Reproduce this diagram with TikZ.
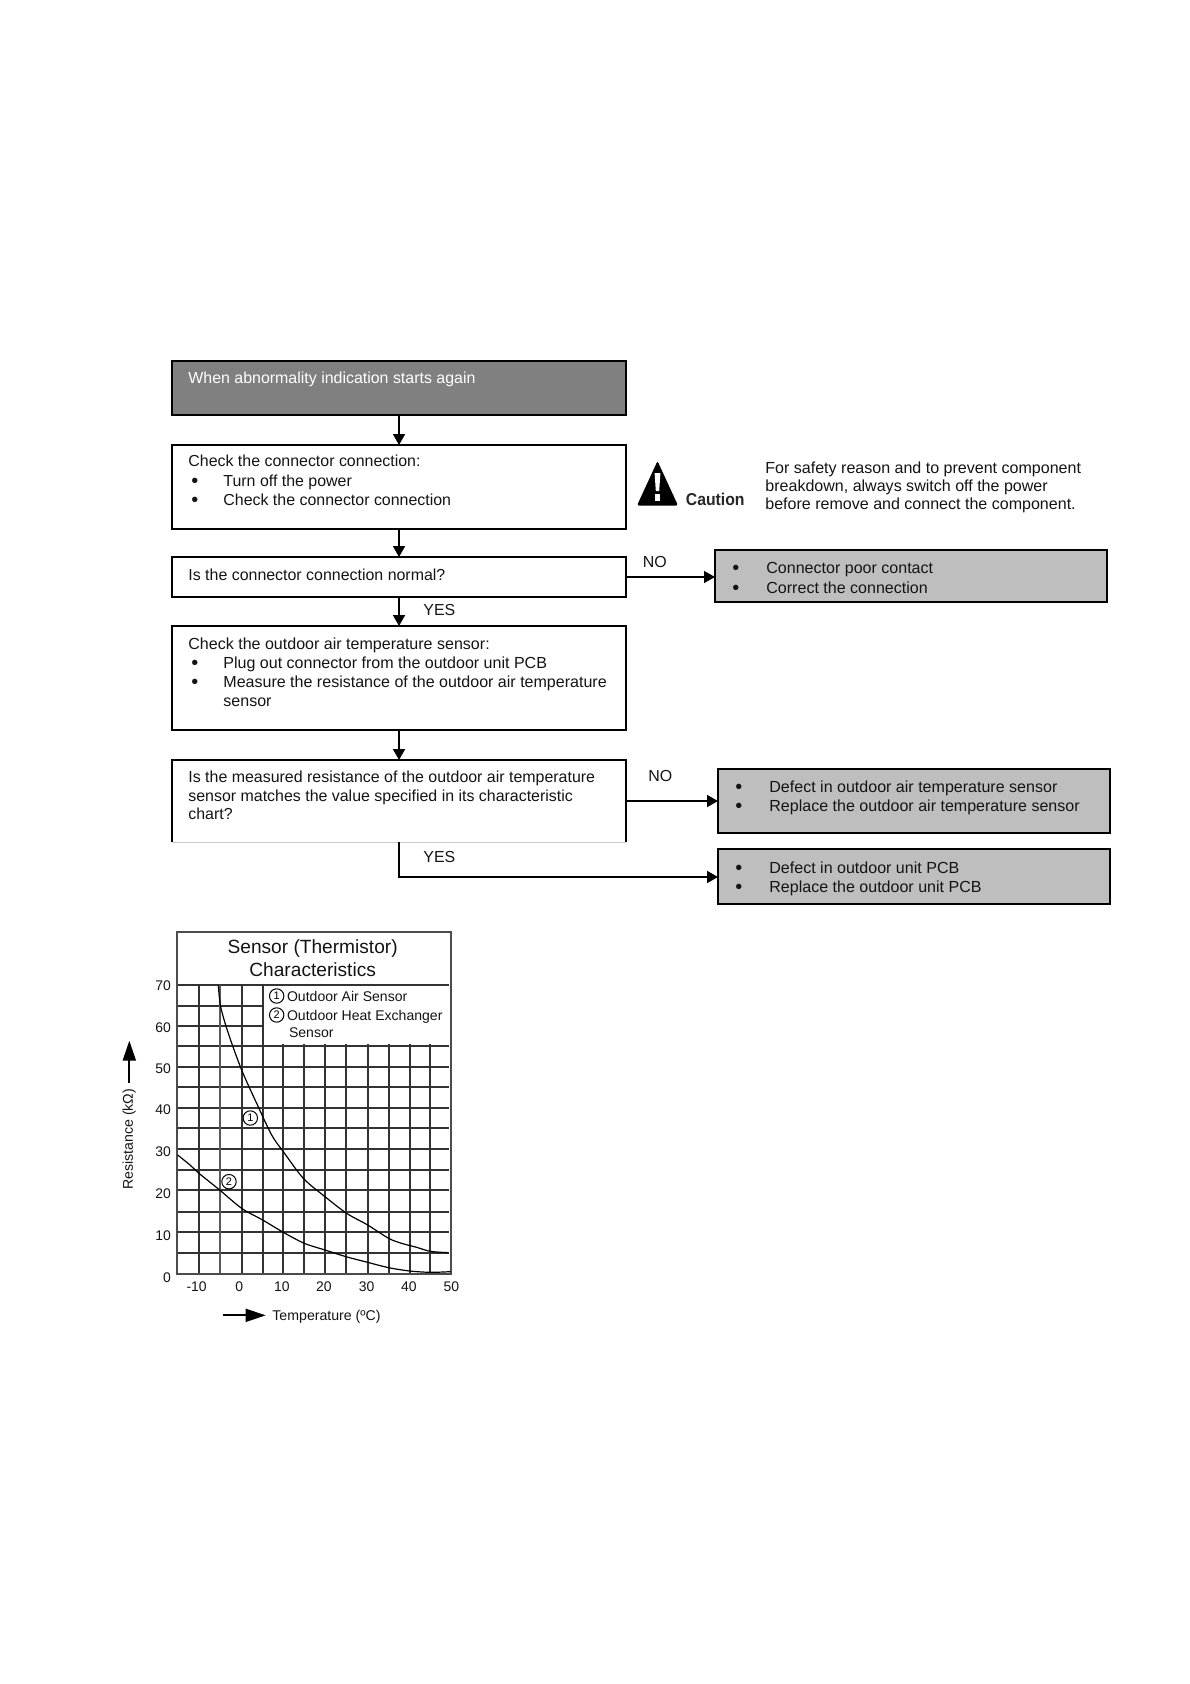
\documentclass[tikz,border=0pt]{standalone}
\usepackage{fontspec}
\setmainfont{Liberation Sans}
\usetikzlibrary{arrows.meta}
\newcommand{\bigdot}{\raisebox{-0.5bp}{\fontsize{10}{10}\selectfont\textbullet}}
\newcommand{\blt}{\hspace*{1.5bp}\makebox[16bp][l]{\bigdot}}
\newcommand{\gblt}{\makebox[17bp][l]{\bigdot}}
\tikzset{
  box/.style={draw=black,line width=0.9bp,fill=white,minimum width=227bp,inner sep=0pt,outer sep=0pt,anchor=north west},
  greybox/.style={draw=black,line width=1bp,fill=boxgrey,inner sep=0pt,outer sep=0pt,anchor=north west},
  txt/.style={anchor=north west,inner sep=0pt,align=left,font=\fontsize{8}{9.75}\selectfont,text=textblack},
  lab/.style={anchor=base west,inner sep=0pt,font=\fontsize{8}{9.85}\selectfont,text=textblack},
  flow/.style={draw=black,line width=0.9bp,-{Triangle[length=5.5bp,width=6bp]}},
  grid/.style={draw=black!80,line width=0.7bp},
  tick/.style={inner sep=0pt,font=\fontsize{7}{8}\selectfont,text=textblack},
  legend/.style={anchor=base west,inner sep=0pt,font=\fontsize{7.05}{8}\selectfont,text=textblack},
  circ/.style={draw=black,circle,line width=0.5bp,minimum size=7.2bp,inner sep=0pt,font=\fontsize{5.5}{6}\selectfont},
}
\definecolor{boxgrey}{HTML}{BEBEBE}
\definecolor{headgrey}{HTML}{808080}
\definecolor{textblack}{HTML}{141414}
\begin{document}
\begin{tikzpicture}[x=0.5bp,y=-0.5bp]
\useasboundingbox (0,0) rectangle (1190,1684);
\fill[white] (0,0) rectangle (1190,1684);
% flow boxes
\node[box,fill=headgrey,minimum height=27bp] (head) at (172,361) {};
\node[box,minimum height=42bp] (b1) at (172,445) {};
\node[box,minimum height=20bp] (q1) at (172,557) {};
\node[box,minimum height=52bp] (b2) at (172,626) {};
\node[box,draw=none,fill=none,minimum height=41bp] (q2) at (172,760) {};
\draw[black,line width=0.9bp] (q2.south west) -- (q2.north west) -- (q2.north east) -- (q2.south east);
\draw[black!20,line width=0.5bp] (q2.south west) -- (q2.south east);
\node[greybox,minimum width=196bp,minimum height=26bp] (g1) at (715,550) {};
\node[greybox,minimum width=196bp,minimum height=32bp] (g2) at (718,769) {};
\node[greybox,minimum width=196bp,minimum height=27.5bp] (g3) at (718,849) {};
% flow texts
\node[txt,text=white] (thead) at (188,372) {When abnormality indication starts again};
\node[txt] (tb1) at (188,455) {Check the connector connection:\\\blt Turn off the power\\\blt Check the connector connection};
\node[txt] (tq1) at (188,568.5) {Is the connector connection normal?};
\node[txt,font=\fontsize{8.05}{9.6}\selectfont] (tb2) at (188,637) {Check the outdoor air temperature sensor:\\\blt Plug out connector from the outdoor unit PCB\\\blt Measure the resistance of the outdoor air temperature\\\hspace*{17.5bp}sensor};
\node[txt,font=\fontsize{8}{9.2}\selectfont] (tq2) at (188,771) {Is the measured resistance of the outdoor air temperature\\sensor matches the value specified in its characteristic\\chart?};
\node[txt,font=\fontsize{8.05}{9.75}\selectfont] (tg1) at (732,562) {\gblt Connector poor contact\\\gblt Correct the connection};
\node[txt,font=\fontsize{8.05}{9.75}\selectfont] (tg2) at (735,780.5) {\gblt Defect in outdoor air temperature sensor\\\gblt Replace the outdoor air temperature sensor};
\node[txt,font=\fontsize{8.05}{9.75}\selectfont] (tg3) at (735,861) {\gblt Defect in outdoor unit PCB\\\gblt Replace the outdoor unit PCB};
\node[txt,font=\fontsize{8.05}{9.2}\selectfont] (tcaution) at (765,461) {For safety reason and to prevent component\\breakdown, always switch off the power\\before remove and connect the component.};
\node[lab] (yes1) at (423,615) {YES};
\node[lab] (no1) at (642.5,567.5) {NO};
\node[lab] (no2) at (648,781.5) {NO};
\node[lab] (yes2) at (423,862.5) {YES};
% connectors
\coordinate (g1in) at (g1.west |- q1.east);
\coordinate (g2in) at (g2.west |- q2.east);
\coordinate (g3in) at (718,877);
\draw[flow] (head.south) -- (b1.north);
\draw[flow] (b1.south) -- (q1.north);
\draw[flow] (q1.south) -- (b2.north);
\draw[flow] (b2.south) -- (q2.north);
\draw[flow,line width=0.6bp] (q1.east) -- (g1in);
\draw[flow] (q2.east) -- (g2in);
\draw[flow] (q2.south) |- (g3in);
% caution icon
\fill[black,rounded corners=1bp] (657.5,461) -- (678,505.5) -- (637,505.5) -- cycle;
\fill[white] (654.6,473) -- (660.4,473) -- (659.2,491) -- (655.8,491) -- cycle;
\fill[white] (654.8,494) rectangle (660.2,501);
\node[anchor=base west,inner sep=0pt,font=\fontsize{8.6}{10}\bfseries,text=black!85,xscale=0.92,transform shape] (cautionlabel) at (685.5,505.5) {Caution};
% chart, in a coordinate frame of 3 units per pixel
\begin{scope}[shift={(100,910)},x=0.16667bp,y=-0.16667bp]
\foreach \y in {288,348} \draw[grid] (231,\y) -- (492,\y);
\foreach \y in {408,471,531,594,654,717,780,840,906,966,1029} \draw[grid] (231,\y) -- (1047,\y);
\draw[grid] (231,225) -- (1047,225);
\foreach \x in {297,426,489} \draw[grid] (\x,225) -- (\x,1092);
\draw[grid,draw=black!65] (360,225) -- (360,1092);
\foreach \x in {549,612,675,738,804,867,930,990} \draw[grid] (\x,402) -- (\x,1092);
\draw[black!70,line width=0.7bp] (231,66) rectangle (1053,1092);
\draw[black,line width=0.6bp] plot[smooth] coordinates {(355,225)(362,290)(385,370)(425,480)(470,580)(515,675)(550,725)(610,805)(675,860)(740,910)(803,945)(866,985)(905,1000)(950,1012)(991,1024)(1045,1028)};
\draw[black,line width=0.6bp] plot[smooth] coordinates {(233,735)(270,765)(297,790)(359,840)(425,895)(488,930)(550,967)(613,1000)(675,1020)(738,1040)(803,1057)(866,1073)(929,1083)(991,1087)(1052,1085)};
\node[inner sep=0pt,font=\fontsize{9.6}{11.6}\selectfont,text=textblack,align=center] (ctitle) at (638,144) {Sensor (Thermistor)\\Characteristics};
\foreach \v/\yy in {70/228,60/352,50/477,40/600,30/726,20/851,10/977,0/1102} \node[tick,anchor=east] (yt\v) at (214,\yy) {\v};
\foreach \v/\xx in {-10/290,0/418,10/546,20/672,30/800,40/927,50/1054} \node[tick] (xt\v) at (\xx,1130) {\v};
\node[circ] (leg1) at (530,258) {1};
\node[circ] (leg2) at (530,315) {2};
\node[legend] (legt1) at (560,273) {Outdoor Air Sensor};
\node[legend] (legt2) at (560,330) {Outdoor Heat Exchanger};
\node[legend] (legt3) at (566,383) {Sensor};
\node[circ,fill=white] (c1) at (451,624) {1};
\node[circ,fill=white] (c2) at (387,815) {2};
\node[tick,rotate=90,font=\fontsize{7.1}{8}\selectfont] (ylabel) at (88,688) {Resistance (kΩ)};
\node[tick,anchor=base west,font=\fontsize{7.1}{8}\selectfont] (xlabel) at (516,1232) {Temperature (ºC)};
\coordinate (ya0) at (88,518);
\coordinate (ya1) at (88,392);
\coordinate (xa0) at (370,1216);
\coordinate (xa1) at (497,1216);
\draw[black,line width=1bp,-{Triangle[length=10bp,width=6.5bp]}] (ya0) -- (ya1);
\draw[black,line width=1bp,-{Triangle[length=10bp,width=6.5bp]}] (xa0) -- (xa1);
\end{scope}
\end{tikzpicture}
\end{document}
